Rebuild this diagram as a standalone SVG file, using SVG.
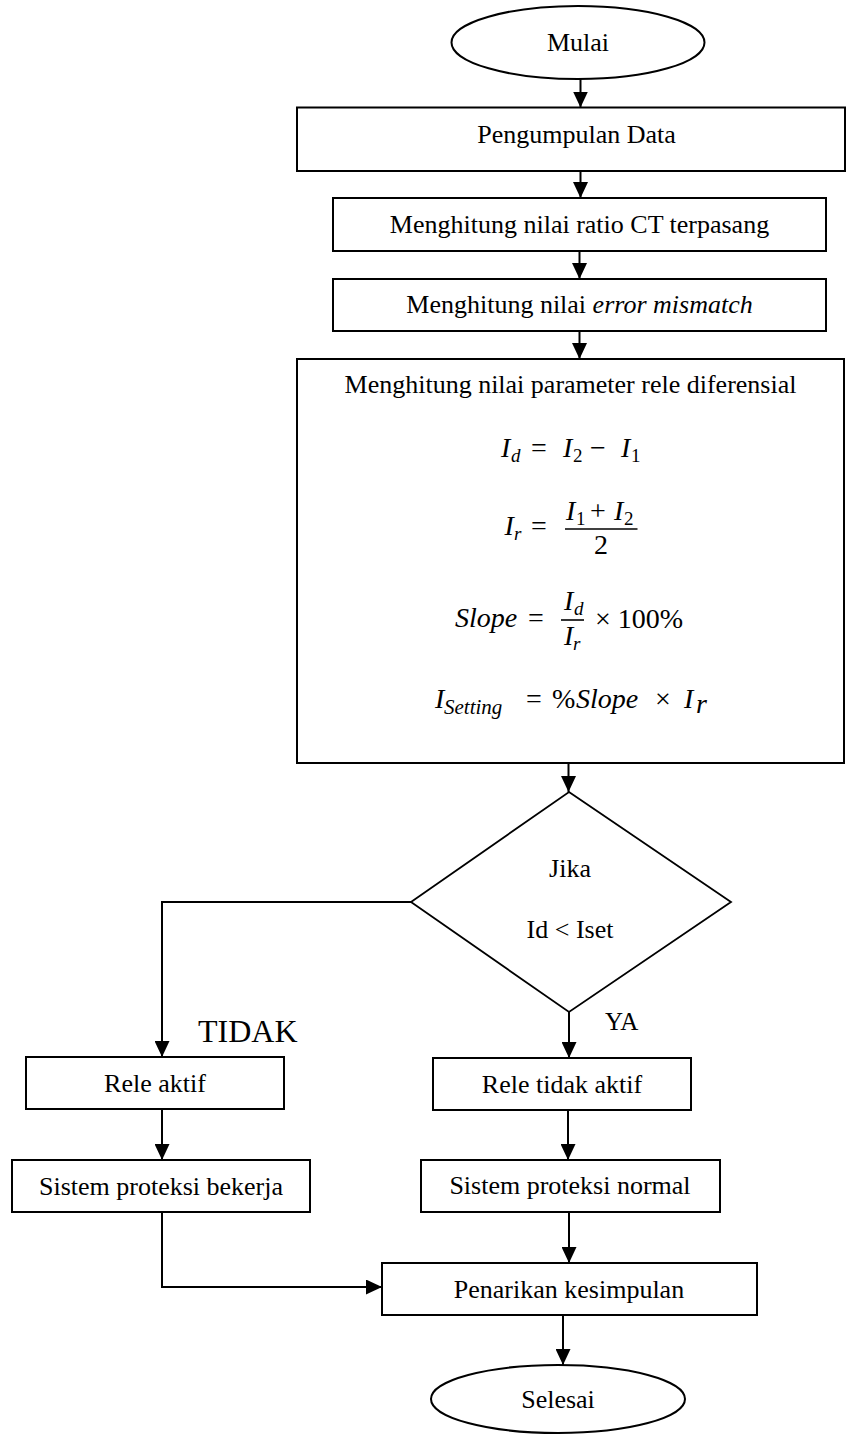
<svg xmlns="http://www.w3.org/2000/svg" width="846" height="1434" viewBox="0 0 846 1434">
<style>
.box{fill:#fff;stroke:#000;stroke-width:2}
.t{font-family:"Liberation Serif","Times New Roman",serif;font-size:26px;text-anchor:middle;fill:#000}
.lbl{font-family:"Liberation Serif","Times New Roman",serif;fill:#000}
.c{stroke:#000;stroke-width:2;fill:none;marker-end:url(#ah)}
.m{font-family:"Liberation Serif","Times New Roman",serif;font-size:28px;fill:#000}
.i{font-style:italic}
.sb{font-size:19px}
</style>
<defs>
<marker id="ah" viewBox="0 0 16 15" refX="16" refY="7.5" markerWidth="16" markerHeight="15" markerUnits="userSpaceOnUse" orient="auto">
<path d="M0,0 L16,7.5 L0,15 z" fill="#000"/>
</marker>
</defs>
<rect width="846" height="1434" fill="#fff"/>
<g id="connectors">
<line class="c" x1="580.5" y1="79" x2="580.5" y2="107.5"/>
<line class="c" x1="580.5" y1="171" x2="580.5" y2="198"/>
<line class="c" x1="579.5" y1="251" x2="579.5" y2="279"/>
<line class="c" x1="579.5" y1="331" x2="579.5" y2="359"/>
<line class="c" x1="568.5" y1="763" x2="568.5" y2="792"/>
<line class="c" x1="569" y1="1012" x2="569" y2="1058"/>
<path class="c" d="M411,902 L162,902 L162,1057"/>
<line class="c" x1="162" y1="1109" x2="162" y2="1160"/>
<line class="c" x1="568" y1="1110" x2="568" y2="1160"/>
<line class="c" x1="569" y1="1212" x2="569" y2="1263"/>
<path class="c" d="M162,1212 L162,1287 L382,1287"/>
<line class="c" x1="563" y1="1315" x2="563" y2="1365"/>
<text class="lbl" x="605" y="1030" font-size="25">YA</text>
<text class="lbl" x="198" y="1042" font-size="32">TIDAK</text>
</g>
<g id="mulai">
<ellipse class="box" cx="578" cy="42.5" rx="126.5" ry="36.5"/>
<text class="t" x="578" y="51">Mulai</text>
</g>
<g id="pengumpulan">
<rect class="box" x="297" y="107.5" width="548" height="63.5"/>
<text class="t" x="576.5" y="143">Pengumpulan Data</text>
</g>
<g id="ratio">
<rect class="box" x="333" y="198" width="493" height="53"/>
<text class="t" x="579.5" y="233">Menghitung nilai ratio CT terpasang</text>
</g>
<g id="mismatch">
<rect class="box" x="333" y="279" width="493" height="52"/>
<text class="t" x="579.5" y="313">Menghitung nilai <tspan font-style="italic">error mismatch</tspan></text>
</g>
<g id="parameter">
<rect class="box" x="297" y="359" width="547" height="404"/>
<text class="t" x="570.5" y="393">Menghitung nilai parameter rele diferensial</text>
<text class="m"><tspan class="i" x="501" y="457">I</tspan><tspan class="i sb" x="511" y="462">d</tspan><tspan x="531" y="457">=</tspan><tspan class="i" x="563" y="457">I</tspan><tspan class="sb" x="573" y="462">2</tspan><tspan x="590" y="457">−</tspan><tspan class="i" x="621" y="457">I</tspan><tspan class="sb" x="631" y="462">1</tspan></text>
<text class="m"><tspan class="i" x="504.5" y="535">I</tspan><tspan class="i sb" x="514" y="540">r</tspan><tspan x="531" y="535">=</tspan><tspan class="i" x="566" y="520">I</tspan><tspan class="sb" x="576" y="525">1</tspan><tspan x="590" y="520">+</tspan><tspan class="i" x="614" y="520">I</tspan><tspan class="sb" x="624" y="525">2</tspan><tspan x="594" y="554">2</tspan></text>
<line x1="565" y1="529" x2="637.5" y2="529" stroke="#000" stroke-width="1.6"/>
<text class="m"><tspan class="i" x="455" y="627">Slope</tspan><tspan x="528" y="627">=</tspan><tspan class="i" x="564" y="610">I</tspan><tspan class="i sb" x="574" y="615">d</tspan><tspan class="i" x="564" y="645">I</tspan><tspan class="i sb" x="573" y="650">r</tspan><tspan x="595" y="628">× 100%</tspan></text>
<line x1="561" y1="620" x2="584" y2="620" stroke="#000" stroke-width="1.6"/>
<text class="m"><tspan class="i" x="435" y="708">I</tspan><tspan class="i" font-size="21" x="444" y="714">Setting</tspan><tspan x="526" y="708">=</tspan><tspan x="552" y="708">%</tspan><tspan class="i" x="576" y="708">Slope</tspan><tspan x="655" y="708">×</tspan><tspan class="i" x="684" y="708">I</tspan><tspan class="i" x="696" y="713">r</tspan></text>
</g>
<g id="keputusan">
<polygon points="569,792 731,902 569,1012 411,902" fill="#fff" stroke="#000" stroke-width="1.8"/>
<text class="t" x="570" y="877">Jika</text>
<text class="t" x="570" y="938">Id &lt; Iset</text>
</g>
<g id="rele-aktif">
<rect class="box" x="26" y="1057" width="258" height="52"/>
<text class="t" x="155" y="1092">Rele aktif</text>
</g>
<g id="rele-tidak-aktif">
<rect class="box" x="433" y="1058" width="258" height="52"/>
<text class="t" x="562" y="1093">Rele tidak aktif</text>
</g>
<g id="proteksi-bekerja">
<rect class="box" x="12" y="1160" width="298" height="52"/>
<text class="t" x="161" y="1195">Sistem proteksi bekerja</text>
</g>
<g id="proteksi-normal">
<rect class="box" x="421" y="1160" width="299" height="52"/>
<text class="t" x="570" y="1194">Sistem proteksi normal</text>
</g>
<g id="kesimpulan">
<rect class="box" x="382" y="1263" width="375" height="52"/>
<text class="t" x="569" y="1298">Penarikan kesimpulan</text>
</g>
<g id="selesai">
<ellipse class="box" cx="558" cy="1399" rx="127" ry="34"/>
<text class="t" x="558" y="1408">Selesai</text>
</g>
</svg>
